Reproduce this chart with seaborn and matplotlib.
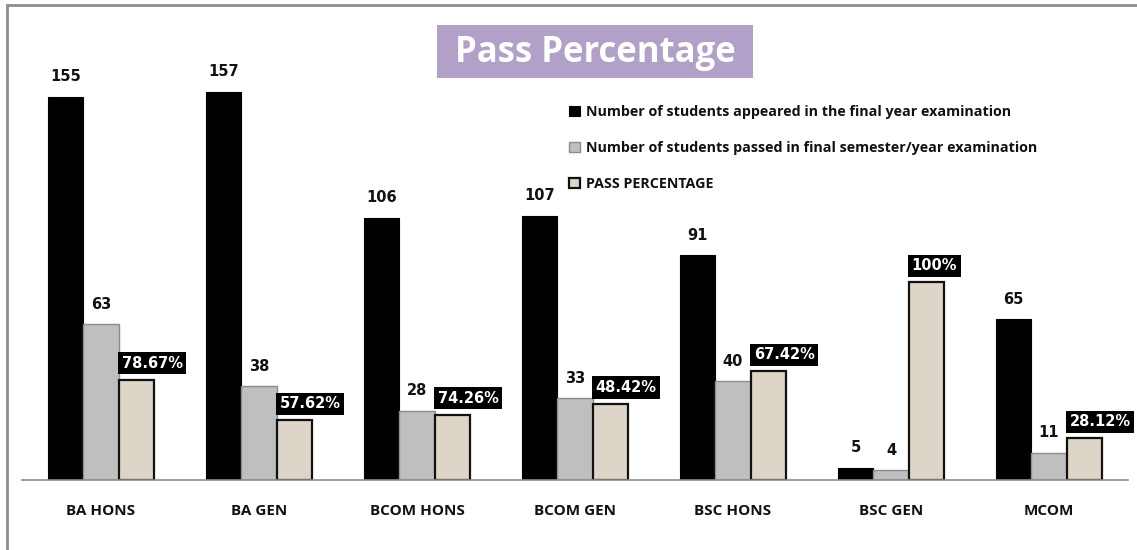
import numpy as np
import pandas as pd
import matplotlib
matplotlib.use("Agg")
import matplotlib.pyplot as plt
from matplotlib.patches import Rectangle
import seaborn as sns

# values
courses = ["BA HONS", "BA GEN", "BCOM HONS", "BCOM GEN", "BSC HONS", "BSC GEN", "MCOM"]
appeared = [155, 157, 106, 107, 91, 5, 65]
passed = [63, 38, 28, 33, 40, 4, 11]
# height of the beige bars as drawn in the picture (not equal to their labels)
pass_bar = [40.6, 24.2, 26.4, 30.8, 44.0, 80.0, 16.9]
pass_labels = ["78.67%", "57.62%", "74.26%", "48.42%", "67.42%", "100%", "28.12%"]

series = [
    "Number of students appeared in the final year examination",
    "Number of students passed in final semester/year examination",
    "PASS PERCENTAGE",
]

df = pd.DataFrame({
    "course": courses * 3,
    "value": appeared + passed + pass_bar,
    "series": [series[0]] * 7 + [series[1]] * 7 + [series[2]] * 7,
})

sns.set_theme(style="white")
plt.rcParams["font.family"] = ["DejaVu Sans"]

W, H = 1137, 550
fig = plt.figure(figsize=(W / 100, H / 100), dpi=100)
ax = fig.add_axes([22 / W, 1 - 480 / H, (1128 - 22) / W, 440 / H])

colors = ["#000000", "#BFBFBF", "#DDD6C8"]
sns.barplot(data=df, x="course", y="value", hue="series", hue_order=series,
            order=courses, palette=colors, width=0.67, gap=0, saturation=1,
            legend=False, ax=ax)

edges = ["#000000", "#8C8C8C", "#111111"]
lws = [0.8, 1.0, 1.6]
for cont, ec, lw in zip(ax.containers, edges, lws):
    for bar in cont:
        bar.set_edgecolor(ec)
        bar.set_linewidth(lw)

ax.set_xlim(-0.5, 6.5)
ax.set_ylim(0, 178)
ax.set_xlabel("")
ax.set_ylabel("")
ax.set_yticks([])
for s in ["left", "right", "top"]:
    ax.spines[s].set_visible(False)
ax.spines["bottom"].set_color("#8C8C8C")
ax.spines["bottom"].set_linewidth(1.2)
ax.tick_params(axis="x", length=0, pad=17)
for lab in ax.get_xticklabels():
    lab.set_fontfamily("Open Sans")
    lab.set_fontweight("bold")
    lab.set_fontsize(11)
    lab.set_color("#111111")

# count labels over the black and grey bars
for cont in ax.containers[:2]:
    ax.bar_label(cont, padding=9, fontsize=10.5, fontweight="bold", color="#111111")

# percentage labels in black boxes
for bar, txt in zip(ax.containers[2], pass_labels):
    ax.annotate(txt, (bar.get_x(), bar.get_height()), xytext=(3, 9),
                textcoords="offset pixels", ha="left", va="bottom",
                fontsize=10.5, fontweight="bold", color="white",
                bbox=dict(boxstyle="square,pad=0.25", fc="black", ec="none"))

leg = ax.legend(ax.containers, series, loc="upper left",
                bbox_to_anchor=(556 / W, 1 - 92 / H), bbox_transform=fig.transFigure,
                frameon=False, handlelength=0.75, handleheight=0.75,
                handletextpad=0.45, labelspacing=1.55,
                prop={"family": "Open Sans", "weight": "bold", "size": 10.3})
for t in leg.get_texts():
    t.set_color("#111111")

# title in purple box
fig.patches.append(Rectangle((437 / W, 1 - 78 / H), 316 / W, 53 / H,
                             transform=fig.transFigure, fc="#B1A0C7", ec="none"))
fig.text(595 / W, 1 - 53 / H, "Pass Percentage", ha="center", va="center",
         fontsize=25, fontweight="bold", color="white", family="Open Sans")

# grey frame around the chart
fig.patches.append(Rectangle((7 / W, -0.1), 1.2, 1.1 - 5 / H, transform=fig.transFigure,
                             fill=False, ec="#8C8C8C", lw=2, zorder=0))

fig.savefig("out.png", dpi=100)
